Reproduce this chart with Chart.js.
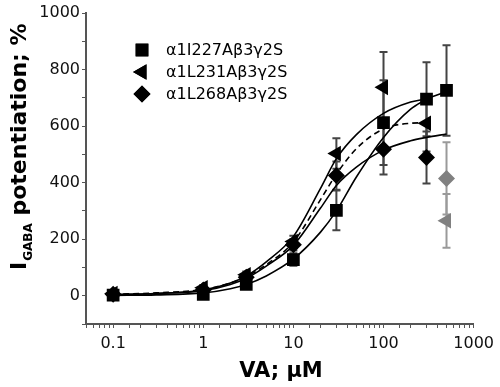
<!DOCTYPE html>
<html>
<head>
<meta charset="utf-8">
<script src="https://cdn.jsdelivr.net/npm/chart.js@4"></script>
<style>
html,body{margin:0;padding:0;background:#fff;}
#wrap{width:500px;height:387px;position:relative;}
</style>
</head>
<body>
<div id="wrap"><canvas id="c" width="500" height="387"></canvas></div>
<script>
// ---- data ----
const conc = [0.1, 1, 3, 10, 30, 100, 300, 500];
const i227 = [2, 5, 40, 128, 302, 612, 695, 726];
const i227Err = [10, 10, 12, 22, 70, 150, 131, 160];
const l231 = [8, 28, 74, 192, 503, 737, 610, 265];
const l231Err = [8, 10, 12, 20, 54, 125, 100, 95];
const l268 = [5, 20, 65, 180, 425, 518, 489, 415];
const l268Err = [6, 8, 12, 20, 50, 89, 92, 128];
const grayFrom = 7; // index from which triangle/diamond points are grey

const fitX = [0.1, 0.3, 1, 2, 3, 5, 10, 20, 30, 50, 100, 200, 300, 500];
const fitUpper = [4, 8, 20, 45, 70, 120, 210, 380, 485, 570, 645, 685, 697, 722];
const fitDashed = [5, 10, 22, 45, 68, 110, 190, 340, 430, 520, 590, 610, 612];
const fitLower = [4, 8, 18, 40, 62, 105, 178, 310, 390, 455, 515, 548, 560, 572];
const fitSquares = [1, 3, 10, 25, 40, 70, 130, 225, 300, 420, 560, 660, 695];

const xTicks = [0.1, 1, 10, 100, 1000];
const yTicks = [0, 200, 400, 600, 800, 1000];

const seriesNames = ['α1I227Aβ3γ2S', 'α1L231Aβ3γ2S', 'α1L268Aβ3γ2S'];

const FONT = '"DejaVu Sans", sans-serif';
const GRAY = '#808080';

function pts(xs, ys) { return ys.map((y, i) => ({x: xs[i], y: y})); }
function colors(n, gray) { return Array.from({length: n}, (_, i) => (gray && i >= grayFrom) ? GRAY : '#000'); }

const errMap = [i227Err, l231Err, l268Err];

const errorBars = {
  id: 'errorBars',
  beforeDatasetsDraw(chart) {
    const ctx = chart.ctx, xs = chart.scales.x, ys = chart.scales.y;
    ctx.save();
    ctx.lineWidth = 2;
    [i227, l231, l268].forEach((vals, s) => {
      const errs = errMap[s];
      vals.forEach((v, i) => {
        const px = xs.getPixelForValue(conc[i]);
        const top = ys.getPixelForValue(v + errs[i]);
        const bot = ys.getPixelForValue(v - errs[i]);
        ctx.strokeStyle = (s > 0 && i >= grayFrom) ? '#9a9a9a' : '#444';
        ctx.beginPath();
        ctx.moveTo(px, top); ctx.lineTo(px, bot);
        ctx.moveTo(px - 4, top); ctx.lineTo(px + 4, top);
        ctx.moveTo(px - 4, bot); ctx.lineTo(px + 4, bot);
        ctx.stroke();
      });
    });
    ctx.restore();
  }
};

const decorations = {
  id: 'decorations',
  afterDraw(chart) {
    const ctx = chart.ctx;
    ctx.save();
    // legend
    const styles = [['rect', 0, 9], ['triangle', -90, 9], ['rectRot', 0, 8.5]];
    const rows = [50, 72, 94];
    styles.forEach((st, k) => {
      Chart.helpers.drawPoint(ctx, {pointStyle: st[0], rotation: st[1], radius: st[2], borderWidth: 0}, 142, rows[k]);
      ctx.fillStyle = '#000';
      ctx.fill();
      ctx.font = '16px ' + FONT;
      ctx.textBaseline = 'middle';
      ctx.textAlign = 'left';
      ctx.fillText(seriesNames[k], 166, rows[k] + 1);
    });
    // x title
    ctx.font = 'bold 21px ' + FONT;
    ctx.textAlign = 'center';
    ctx.textBaseline = 'middle';
    ctx.fillStyle = '#000';
    ctx.fillText('VA; μM', 281, 372);
    // y title (rotated, with subscript)
    ctx.translate(26, 270);
    ctx.rotate(-Math.PI / 2);
    ctx.textAlign = 'left';
    ctx.textBaseline = 'alphabetic';
    ctx.font = 'bold 22px ' + FONT;
    let x = 0;
    ctx.fillText('I', x, 0); x += ctx.measureText('I').width + 1;
    ctx.font = 'bold 12px ' + FONT;
    ctx.fillText('GABA', x, 6); x += ctx.measureText('GABA').width;
    ctx.font = 'bold 22px ' + FONT;
    ctx.fillText(' potentiation; %', x, 0);
    ctx.restore();
  }
};

function pointSet(label, data, style, rot, radius, gray) {
  return {
    type: 'scatter', label: label, data: data,
    pointStyle: style, rotation: rot, pointRadius: radius, pointHoverRadius: radius,
    pointBackgroundColor: colors(data.length, gray), pointBorderColor: colors(data.length, gray),
    pointBorderWidth: 0, showLine: false
  };
}
function curveSet(label, data, dash) {
  return {
    type: 'scatter', label: label, data: data, showLine: true,
    borderColor: '#000', borderWidth: 1.6, borderDash: dash, pointRadius: 0,
    cubicInterpolationMode: 'monotone', fill: false
  };
}

new Chart(document.getElementById('c'), {
  data: {
    datasets: [
      pointSet(seriesNames[0], pts(conc, i227), 'rect', 0, 9, false),
      pointSet(seriesNames[1], pts(conc, l231), 'triangle', -90, 9, true),
      pointSet(seriesNames[2], pts(conc, l268), 'rectRot', 0, 8.5, true),
      curveSet('fit upper', pts(fitX, fitUpper), []),
      curveSet('fit dashed', pts(fitX, fitDashed), [6, 4]),
      curveSet('fit lower', pts(fitX, fitLower), []),
      curveSet('fit squares', pts(fitX, fitSquares), [])
    ]
  },
  options: {
    responsive: false, animation: false, devicePixelRatio: 1,
    layout: {padding: {top: 13, right: 22, left: 0, bottom: 0}},
    plugins: {legend: {display: false}, tooltip: {enabled: false}, title: {display: false}},
    scales: {
      x: {
        type: 'logarithmic', min: 0.05, max: 1000,
        afterFit(s) { s.height = 63; },
        grid: {display: true, drawOnChartArea: false, drawTicks: true, tickLength: 4, color: '#555', lineWidth: 1},
        border: {display: true, color: '#555', width: 2},
        ticks: {
          autoSkip: false, maxRotation: 0, padding: 6, color: '#111',
          font: {family: FONT, size: 16},
          callback(v) {
            const hit = xTicks.find(t => Math.abs(Math.log10(v) - Math.log10(t)) < 1e-6);
            return hit !== undefined ? String(hit) : '';
          }
        }
      },
      y: {
        type: 'linear', min: -100, max: 1000,
        afterFit(s) { s.width = 86; },
        grid: {display: true, drawOnChartArea: false, drawTicks: true, tickLength: 4, color: '#555', lineWidth: 1},
        border: {display: true, color: '#555', width: 2},
        ticks: {
          stepSize: 100, padding: 2, color: '#111',
          font: {family: FONT, size: 16},
          callback(v) { return yTicks.includes(v) ? String(v) : ''; }
        }
      }
    }
  },
  plugins: [errorBars, decorations]
});
</script>
</body>
</html>
